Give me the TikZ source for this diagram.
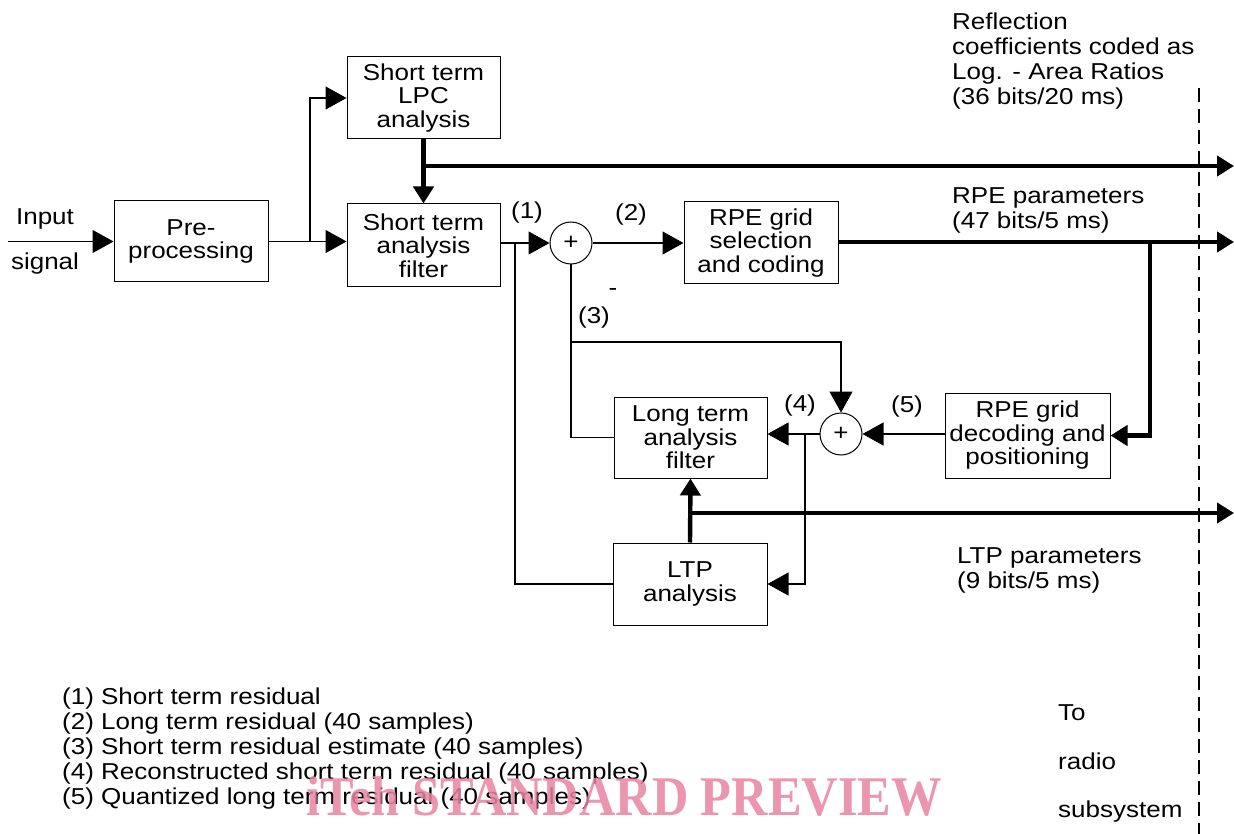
\documentclass[tikz,border=0pt]{standalone}
\usepackage{fontspec}
\setmainfont[FakeStretch=1.13]{Liberation Sans}
\newfontfamily\wmfont[FakeStretch=0.9]{Liberation Serif}
\usetikzlibrary{arrows.meta,calc}
\definecolor{wmpink}{RGB}{232,130,160}
\begin{document}
\begin{tikzpicture}[x=1pt,y=-1pt,
  font=\fontsize{23}{25}\selectfont,
  blk/.style={draw, line width=1pt, align=center, inner sep=0pt, font=\fontsize{23}{23.5}\selectfont},
  sumnode/.style={draw, circle, line width=1pt, minimum size=42pt, inner sep=0pt},
  sig/.style={line width=1.1pt},
  bus/.style={line width=4.4pt, line join=miter},
  tarr/.style={-{Triangle[length=21pt,width=23pt]}},
  karr/.style={-{Triangle[length=17pt,width=20pt]}},
  lbl/.style={inner sep=0pt},
]
\useasboundingbox (0,0) rectangle (1234,834);

% blocks
\node[blk, minimum width=154pt, minimum height=81pt] (pre) at (191,241.5) {Pre-\\processing};
\node[blk, minimum width=153pt, minimum height=82pt] (lpc) at (423.5,98) {Short term\\LPC\\analysis};
\node[blk, minimum width=153pt, minimum height=83pt] (stf) at (423.5,245.5) {Short term\\analysis\\filter};
\node[blk, minimum width=154pt, minimum height=82pt] (rpes) at (761,243) {RPE grid\\selection\\and coding};
\node[blk, minimum width=153pt, minimum height=81pt] (ltf) at (690.5,437.5) {Long term\\analysis\\filter};
\node[blk, minimum width=154pt, minimum height=82pt] (ltp) at (690,584) {LTP\\analysis};
\node[blk, minimum width=165pt, minimum height=85pt] (rped) at (1027.5,435.5) {RPE grid\\decoding and\\positioning};
\node[sumnode] (s1) at (571,243) {+};
\node[sumnode] (s2) at (841,434) {+};

% junctions and free ends
\coordinate (in) at (8,241.5);
\coordinate (j1) at (310,241.5);
\coordinate (j2) at (423.5,166);
\coordinate (o1) at (1234,166);
\coordinate (j3) at (515,243);
\coordinate (o2) at (1234,242);
\coordinate (j4) at (1150,242);
\coordinate (j5) at (571,342);
\coordinate (j6) at (805,434);
\coordinate (j7) at (690,513);
\coordinate (o3) at (1234,513);
\coordinate (d1) at (1199,88);
\coordinate (d2) at (1199,834);

% connectors
\draw[sig,tarr] (in) -- (pre.west);
\draw[sig] (pre.east) -- (j1);
\draw[sig,tarr] (j1) |- (lpc.west);
\draw[sig,tarr] (j1) -- (stf.west |- j1);
\draw[bus,karr] (lpc.south) -- (stf.north);
\draw[bus,karr] (j2) -- (o1);
\draw[sig,tarr] (stf.east |- s1) -- (s1.west);
\draw[sig] (j3) |- (ltp.west);
\draw[sig,tarr] (s1.east) -- (rpes.west |- s1);
\draw[bus,karr] (rpes.east |- o2) -- (o2);
\draw[bus,karr] (j4) |- (rped.east);
\draw[sig] (s1.south) |- (ltf.west);
\draw[sig,tarr] (j5) -| (s2.north);
\draw[sig,tarr] (s2.west) -- (ltf.east |- s2);
\draw[sig,tarr] (j6) |- (ltp.east);
\draw[sig,tarr] (rped.west |- s2) -- (s2.east);
\draw[bus,karr] (ltp.north) -- (ltf.south);
\draw[bus,karr] (j7) -- (o3);
\draw[sig, dash pattern=on 14pt off 7pt] (d1) -- (d2);

% labels
\node[lbl] (l1) at (527,213) {(1)};
\node[lbl] (l2) at (631,215) {(2)};
\node[lbl] (lm) at (613,292) {-};
\node[lbl] (l3) at (594,318) {(3)};
\node[lbl] (l4) at (800,406) {(4)};
\node[lbl] (l5) at (907,407) {(5)};
\node[lbl, anchor=base] (tin) at (45,225) {Input};
\node[lbl, anchor=base] (tsig) at (45,270) {signal};
\node[lbl, anchor=north west, align=left] (trc) at (952,13) {Reflection\\coefficients coded as\\Log. - Area Ratios\\(36 bits/20 ms)};
\node[lbl, anchor=north west, align=left] (trpe) at (952,187) {RPE parameters\\(47 bits/5 ms)};
\node[lbl, anchor=north west, align=left] (tltp) at (957,547) {LTP parameters\\(9 bits/5 ms)};
\node[lbl, anchor=base west] (tto) at (1058,720) {To};
\node[lbl, anchor=base west] (trad) at (1058,769) {radio};
\node[lbl, anchor=base west] (tsub) at (1058,817) {subsystem};
\node[lbl, anchor=north west, align=left] (leg) at (62,688) {(1) Short term residual\\(2) Long term residual (40 samples)\\(3) Short term residual estimate (40 samples)\\(4) Reconstructed short term residual (40 samples)\\(5) Quantized long term residual (40 samples)};

% watermark
\node[lbl, anchor=base, text=wmpink, opacity=0.85, font=\wmfont\bfseries\fontsize{56}{56}\selectfont] (wm) at (624,815) {iTeh STANDARD PREVIEW};
\end{tikzpicture}
\end{document}
